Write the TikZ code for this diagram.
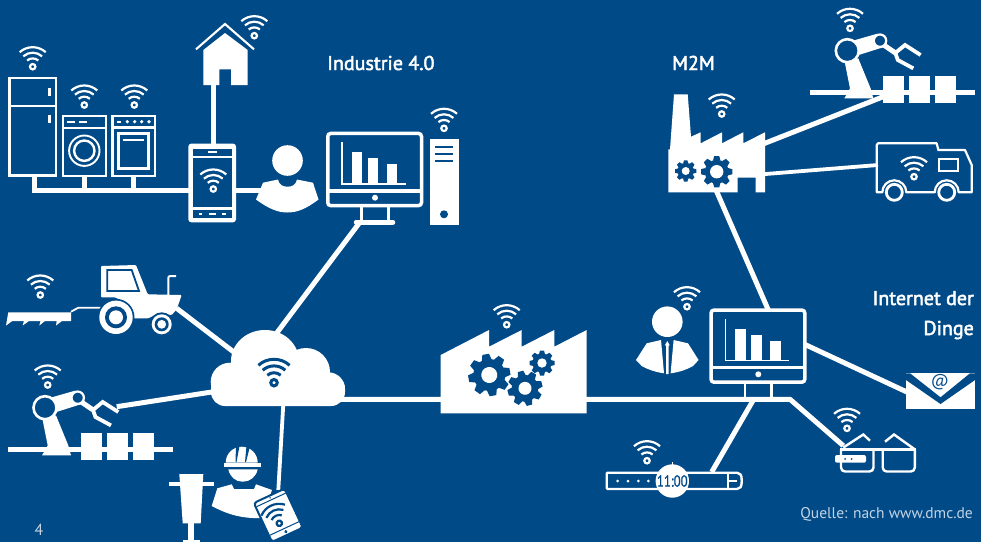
\documentclass[tikz,border=0pt]{standalone}
\usepackage{fontspec}
\usepackage{graphicx}
\setmainfont{PT Sans}
\newfontfamily\labelfont[RawFeature={embolden=2.4}]{PT Sans}
\newfontfamily\clockfont[RawFeature={embolden=1.4}]{PT Sans}
\definecolor{bg}{HTML}{004A87}
\definecolor{soft}{HTML}{C3D3E4}
\def\wl{2.2pt}
\tikzset{
  conn/.style={white,line width=5pt},
  thinconn/.style={white,line width=3.8pt},
  label/.style={text=white,inner sep=0pt,font=\labelfont\fontsize{20}{22}\selectfont},
  wifi/.pic={
    \draw[#1,line width=\wl] (-13,-14.5) .. controls (-5.6,-21.2) and (5.6,-21.2) .. (13,-14.5);
    \draw[#1,line width=\wl] (-9.4,-10.4) .. controls (-4,-15.2) and (4,-15.2) .. (9.4,-10.4);
    \draw[#1,line width=\wl] (-5.6,-6.2) .. controls (-2.4,-9) and (2.4,-9) .. (5.6,-6.2);
    \draw[#1,line width=\wl] (0,0) circle[radius=2.7];
  },
  monitor/.pic={
    \draw[white,line width=3.5pt,rounded corners=3pt] (1.75,1.75) rectangle (95.5,73.9);
    \draw[white,line width=3.5pt] (1.75,59.3) -- (95.5,59.3);
    \fill[white] (49,66) circle[radius=3];
    \draw[white,line width=1.4pt] (16,10.6) -- (16,52.3) -- (80,52.3);
    \fill[white] (26,20.3) rectangle (36.3,52.3);
    \fill[white] (42,26.3) rectangle (52.3,52.3);
    \fill[white] (61,32.3) rectangle (71.3,52.3);
    \draw[white,line width=2.5pt] (35.7,75) -- (35.7,90.6);
    \draw[white,line width=2.5pt] (62.3,75) -- (62.3,90.6);
  },
  robot/.pic={
    \draw[white,line width=5pt] (-37,41.3) -- (127.7,41.3);
    \fill[white] (35.7,25.3) rectangle (56.7,52);
    \fill[white] (61.7,25.3) rectangle (82.7,52);
    \fill[white] (87.7,25.3) rectangle (108.7,52);
    \fill[white] (-3,9.3) -- (11,7.7) -- (23.3,37.7) -- (26,47.7) -- (-3,47.7) -- (2.7,37.7) -- cycle;
    \fill[white] (2,-9) -- (30,-17) -- (36,-3.5) -- (6,6) -- cycle;
    \draw[white,line width=5pt] (36,-6) -- (47.7,2);
    \draw[white,line width=3.8pt,line join=miter] (47.7,2.5) -- (57.7,-5.7) -- (73.3,4.3);
    \draw[white,line width=3.8pt,line join=miter] (47.7,1.5) -- (50.5,9.3) -- (66,17.7);
    \draw[white,line width=2.6pt,fill=bg] (0,0) circle[radius=11.5];
    \draw[white,line width=2.2pt,fill=bg] (32.7,-10) circle[radius=6.2];
  }
}
\newcommand\gearicon[6]{%
  \begin{scope}[shift={(#1,#2)},rotate=#6]
    \fill[bg] (0,0) circle[radius={0.76*#3}];
    \foreach \i in {1,...,#5}{
      \fill[bg,rotate={\i*360/#5}] ({-0.24*#3},{-0.7*#3}) -- ({-0.16*#3},{-#3}) -- ({0.16*#3},{-#3}) -- ({0.24*#3},{-0.7*#3}) -- cycle;
    }
    \fill[white] (0,0) circle[radius=#4];
  \end{scope}%
}
\begin{document}
\begin{tikzpicture}[x=1pt,y=-1pt]
\fill[bg] (0,0) rectangle (981,542);
\useasboundingbox (0,0) rectangle (981,542);
\clip (0,0) rectangle (981,542);

% ports
\coordinate (busL) at (32.2,190.7);
\coordinate (fridgeP) at (34.7,176);
\coordinate (washerP) at (84.3,176);
\coordinate (ovenP) at (133.7,176);
\coordinate (phoneL) at (190,190.7);
\coordinate (phoneR) at (234,190.7);
\coordinate (personL) at (268,190.7);
\coordinate (houseP) at (213.3,84);
\coordinate (phoneT) at (213.3,145);
\coordinate (cloudT) at (276.7,333);
\coordinate (mon1P) at (360,222);
\coordinate (tractorP) at (176.7,308.3);
\coordinate (cloudTL) at (235,353);
\coordinate (robotP) at (116.7,406.7);
\coordinate (cloudL) at (215,391.5);
\coordinate (cloudR) at (340,399.3);
\coordinate (busJ) at (790,399.3);
\coordinate (glassP) at (843.3,445.7);
\coordinate (cloudB) at (283.3,404);
\coordinate (tabletP) at (278.3,490);
\coordinate (mon2R) at (805,344.5);
\coordinate (mailP) at (908,392.5);
\coordinate (watchJ) at (753.3,400);
\coordinate (watchP) at (711.7,472);
\coordinate (mfacB) at (716,190);
\coordinate (mon2T) at (768.3,310);
\coordinate (mfacR1) at (763,144);
\coordinate (blockP) at (885,96);
\coordinate (mfacR2) at (763,174.2);
\coordinate (truckP) at (878,165);

% connectors
\draw[conn] (busL) -- (phoneL);
\draw[conn] (fridgeP) -- (34.7,190.7);
\draw[conn] (washerP) -- (84.3,190.7);
\draw[conn] (ovenP) -- (133.7,190.7);
\draw[conn] (phoneR) -- (personL);
\draw[conn] (houseP) -- (phoneT);
\draw[conn] (cloudT) -- (mon1P);
\draw[conn] (tractorP) -- (cloudTL);
\draw[conn] (robotP) -- (cloudL);
\draw[conn,line join=miter] (cloudR) -- (busJ) -- (glassP);
\draw[thinconn] (cloudB) -- (tabletP);
\draw[conn] (mon2R) -- (mailP);
\draw[conn] (watchJ) -- (watchP);
\draw[conn] (mfacB) -- (mon2T);
\draw[conn] (mfacR1) -- (blockP);
\draw[thinconn] (mfacR2) -- (truckP);

% fridge
\draw[white,line width=2.5pt] (9.4,77.9) rectangle (56.2,175.6);
\draw[white,line width=2.5pt] (9.4,106) -- (56.2,106);
\draw[white,line width=2.5pt] (49.3,88) -- (49.3,96);
\draw[white,line width=2.5pt] (49.3,114.5) -- (49.3,123);
% washer
\draw[white,line width=2.2pt] (63,116) rectangle (106,176);
\draw[white,line width=2.2pt] (63,128) -- (106,128);
\draw[white,line width=2.2pt] (67,121.7) -- (75,121.7);
\draw[white,line width=2.2pt] (79,121.7) -- (87,121.7);
\draw[white,line width=1.9pt] (84.3,150.7) circle[radius=15.2];
\draw[white,line width=2.4pt] (84.3,150.7) circle[radius=10.2];
% oven
\draw[white,line width=2.2pt] (112.5,116) rectangle (155.3,176);
\draw[white,line width=2.2pt] (112.5,127.5) -- (155.3,127.5);
\draw[white,line width=2.2pt] (117,121.7) -- (121,121.7);
\foreach \xx in {127.3,134.7,141.7,149}{\fill[white] (\xx,121.7) circle[radius=1.8];}
\draw[white,line width=2.4pt] (118.5,133.5) rectangle (148.5,168.5);
\draw[white,line width=2.2pt] (123,140) -- (144,140);
% house
\fill[white] (203.3,85) -- (203.3,50) -- (225,33) -- (247.7,50) -- (247.7,85) -- (231,85) -- (231,69.3) -- (219.3,69.3) -- (219.3,85) -- cycle;
\draw[white,line width=2.1pt] (196,49.3) -- (225,24) -- (254,49.3);
% phone
\fill[white,rounded corners=3pt] (188.3,143.6) rectangle (236,222.3);
\fill[bg] (193.3,158.3) rectangle (231.7,206.7);
\fill[bg] (193.3,148.8) rectangle (231.7,155.6);
\fill[bg] (193.3,210.2) rectangle (231.7,218);
\fill[white] (208,150.9) rectangle (216.5,153.4);
\fill[white] (198.5,212.9) rectangle (202,215.3);
\fill[white] (208.5,212.9) rectangle (216,215.3);
\fill[white] (222,212.9) rectangle (225.5,215.3);
% person
\fill[white] (287.5,160.5) circle[radius=15.3];
\fill[white] (263,182.7) -- (278,179.5) .. controls (279,185) and (283,186.7) .. (287.5,186.7) .. controls (292,186.7) and (296,185) .. (297,179.5) -- (313,182.7) -- (318.5,199.5) .. controls (306,209) and (297,212.5) .. (287.5,212.5) .. controls (278,212.5) and (269,209) .. (256,199.5) -- cycle;
% monitor 1
\pic at (326,131.7) {monitor};
\draw[white,line width=4.5pt,line cap=round] (356,222.3) -- (393,222.3);
% server
\fill[white] (430,139) rectangle (459,225);
\foreach \yy in {146.7,154,161.3}{\fill[bg] (435,\yy-0.9) rectangle (453.3,\yy+0.9);}
\fill[bg] (444,214.3) circle[radius=4];
% M2M factory
\fill[white] (674,94.3) -- (687.7,94.3) -- (691,136.7) -- (700.7,132.3) -- (700.7,143.3) -- (722,132.3) -- (722,143.3) -- (743.3,132.3) -- (743.3,143.3) -- (765,132.3) -- (765,192.3) -- (755.7,192.3) -- (755.7,177.7) -- (737.7,177.7) -- (737.7,192.3) -- (668.3,192.3) -- (668.3,149.3) -- (670,149.3) -- cycle;
\gearicon{685.7}{171}{10.7}{4}{8}{0}
\gearicon{716.7}{171.7}{15.7}{6.7}{8}{0}
% robots
\pic at (847.3,50.7) {robot};
\pic at (45,407.7) {robot};
% truck
\draw[white,line width=2.2pt,line join=round] (876.7,192.3) -- (876.7,145) -- (878,143.3) -- (936.7,143.3) -- (938.3,150) -- (965,150) -- (971.7,165) -- (971.7,192.3) -- (958.7,192.3) arc[start angle=0,end angle=-180,radius=12] -- (906.3,192.3) arc[start angle=0,end angle=-180,radius=12] -- cycle;
\draw[white,line width=2.2pt] (939.3,159) rectangle (957.7,170.7);
\draw[white,line width=2.8pt] (894.3,192.3) circle[radius=8];
\draw[white,line width=2.8pt] (946.7,192.3) circle[radius=8];
% tractor
\fill[white] (8.3,312.3) -- (71,312.3) -- (71,321) -- (62,321) -- (56,325.5) -- (56.7,321) -- (45,321) -- (39.3,325.5) -- (40.5,321) -- (29,321) -- (22.7,325.5) -- (24,321) -- (12.3,321) -- (6,325.5) -- cycle;
\draw[white,line width=1.8pt] (71,311.7) -- (78.3,307.7) -- (104,307.7);
\draw[white,line width=2pt,rounded corners=2pt] (168.3,296) -- (168.3,276) -- (176,276);
\fill[white,rounded corners=1pt] (101,266) -- (136,265) -- (147.7,294.3) -- (181.7,295) -- (176.7,309.3) -- (171.7,315) -- (158.3,313.3) -- (148.3,318.3) -- (133,318.3) -- (126.7,303.3) -- (115,297.3) -- (101,297.3) -- cycle;
\draw[bg,line width=1.8pt,fill=white] (107.3,270) -- (131.7,270) -- (139,291) -- (107.3,291) -- cycle;
\fill[bg] (116,317.3) circle[radius=18.5];
\fill[white] (116,317.3) circle[radius=16.7];
\fill[bg] (116,317.3) circle[radius=11];
\fill[white] (116,317.3) circle[radius=7];
\fill[bg] (161.7,324.3) circle[radius=12];
\fill[white] (161.7,324.3) circle[radius=10];
\fill[bg] (161.7,324.3) circle[radius=7];
\fill[white] (161.7,324.3) circle[radius=4.4];
% cloud
\fill[white] (265,361) ellipse[x radius=34,y radius=31];
\fill[white] (306,372) circle[radius=24];
\fill[white] (328.3,389) circle[radius=16.7];
\fill[white] (230,382) circle[radius=19.3];
\fill[white,rounded corners=14pt] (211,375) rectangle (345,406);
% worker
\fill[white] (169,481.7) rectangle (214,486);
\fill[white] (179.3,474) -- (203.3,474) -- (200.7,523.3) -- (182.7,523.3) -- cycle;
\fill[white] (188.3,523) rectangle (194.3,542);
\fill[white] (182.7,540) rectangle (200,542);
\fill[white] (225.7,462.7) arc[start angle=180,end angle=360,radius=16] -- cycle;
\fill[bg] (236,446) -- (239.5,446) -- (236.5,462) -- (235.5,462) -- cycle;
\fill[bg] (246.5,446) -- (250,446) -- (246,462) -- (245,462) -- cycle;
\fill[white] (224.3,462.7) rectangle (261,467.3);
\fill[white] (228.3,469.3) -- (257.7,469.3) .. controls (256,477) and (250,481.7) .. (242.7,481.7) .. controls (235.5,481.7) and (230,477) .. (228.3,469.3) -- cycle;
\fill[white] (217.3,488.3) -- (231.7,484.3) -- (234,489) -- (254,489) -- (256,484.3) -- (272,490) -- (262,518) .. controls (240,519) and (225,513) .. (211.7,506) -- cycle;
\begin{scope}[shift={(278.3,515.3)},rotate=25]
  \fill[white,rounded corners=3pt,draw=bg,line width=2pt] (-17,-21.5) rectangle (17,21.5);
  \draw[bg,line width=1pt] (-16,-17) -- (16,-17);
  \draw[bg,line width=1pt] (-16,14.5) -- (16,14.5);
  \fill[bg] (0,18) circle[radius=1.7];
  \fill[bg] (0,-19.3) circle[radius=0.8];
\end{scope}
% big factory
\fill[white] (440.7,355) -- (489,330) -- (489,346.7) -- (521.7,330) -- (521.7,346.7) -- (554.3,330) -- (554.3,346.7) -- (586.7,330) -- (586.7,413.3) -- (440.7,413.3) -- cycle;
\gearicon{489.3}{375}{21}{8}{8}{10}
\gearicon{525}{388.3}{17.5}{6.5}{8}{15}
\gearicon{542}{363}{12.5}{4.7}{8}{0}
% monitor 2
\pic at (709.3,308.3) {monitor};
% businessman
\fill[white] (667.3,321.7) circle[radius=15.3];
\fill[white] (646.7,343.3) -- (661,340) -- (664,373.3) .. controls (655,372) and (648,369.5) .. (641.7,366) -- (636,360) -- cycle;
\fill[white] (688,343.3) -- (673.6,340) -- (670.6,373.3) .. controls (680,372) and (687,369.5) .. (693,366) -- (698.6,360) -- cycle;
\fill[white] (665,345) -- (667.3,341) -- (669.6,345) -- (668.5,346) -- (668.5,374) -- (666.1,374) -- (666.1,346) -- cycle;
% e-mail
\fill[white] (906,373.3) rectangle (975,408.7);
\fill[bg] (906,373.3) -- (910,373.3) -- (940.5,397.3) -- (970,373.3) -- (975,373.3) -- (975,380) -- (940.5,404) -- (906,380) -- cycle;
\node[inner sep=0pt,text=bg] (at) at (939.3,382.5) {\fontsize{17}{18}\selectfont\itshape @};
% watch
\draw[white,line width=2.4pt,rounded corners=1pt] (606.7,472.7) -- (736,472.7) .. controls (740,472.7) and (741.7,475) .. (741.7,480.8) .. controls (741.7,486.7) and (740,489) .. (736,489) -- (606.7,489) -- cycle;
\draw[white,line width=2.2pt] (727.7,472) -- (727.7,489);
\draw[white,line width=1.6pt] (729.3,481) -- (736.7,481);
\foreach \xx in {617.7,628,638.3,648.3}{\fill[white] (\xx,481) circle[radius=1.5];}
\fill[white] (672.3,481) circle[radius=16.7];
\fill[white] (671.6,461.7) rectangle (673,466);
\node[inner sep=0pt,text=bg] (clock) at (672.3,481) {\scalebox{0.8}[1]{\clockfont\fontsize{16}{17}\selectfont 11:00}};
% glasses
\draw[white,line width=2.4pt,rounded corners=4pt] (841,449.3) -- (841,471.5) -- (873.5,471.5) -- (873.5,449.3);
\draw[white,line width=2.4pt,rounded corners=4pt] (882.7,449.3) -- (882.7,471.5) -- (914.8,471.5) -- (914.8,449.3);
\draw[white,line width=2.4pt] (840,449.3) -- (915.7,449.3);
\draw[white,line width=2.4pt] (843.3,447.5) -- (863.3,434.5) -- (870,440.7);
\draw[white,line width=2.4pt] (885,441.7) -- (894,434.5) -- (915,449.5);
\fill[white,rounded corners=2pt] (835,455) rectangle (866,462.7);
\fill[bg] (845,459) circle[radius=1];
\fill[bg] (851.7,459) circle[radius=1];

% wifi
\pic at (32.7,66.7) {wifi=white};
\pic at (84.3,105) {wifi=white};
\pic at (134.3,105) {wifi=white};
\pic at (254.3,35.7) {wifi=white};
\pic at (213.3,189) {wifi=white};
\pic at (444,128.3) {wifi=white};
\pic at (721.7,114) {wifi=white};
\pic at (850,28.3) {wifi=white};
\pic at (914,176.7) {wifi=white};
\pic at (40.3,295) {wifi=white};
\pic at (47.7,385) {wifi=white};
\pic at (506.7,324.7) {wifi=white};
\pic at (687,306.7) {wifi=white};
\pic at (847,428.3) {wifi=white};
\pic at (647,460.7) {wifi=white};
\begingroup\def\wl{3pt}
\pic[scale=1.2] at (274,382.7) {wifi=bg};
\endgroup
\pic[rotate=25] at (279.3,523.3) {wifi=bg};

% labels
\node[label,anchor=base west] (ind) at (327,70) {Industrie 4.0};
\node[label,anchor=base west] (m2m) at (672,70) {M2M};
\node[label,anchor=base east] (iot1) at (974,305) {Internet der};
\node[label,anchor=base east] (iot2) at (974,335) {Dinge};
\node[anchor=base east,inner sep=0pt,text=soft,font=\fontsize{15.5}{17}\selectfont] (src) at (973,518) {Quelle: nach www.dmc.de};
\node[anchor=base,inner sep=0pt,text=soft,font=\fontsize{16}{18}\selectfont] (pg) at (39,535) {4};
\end{tikzpicture}
\end{document}
